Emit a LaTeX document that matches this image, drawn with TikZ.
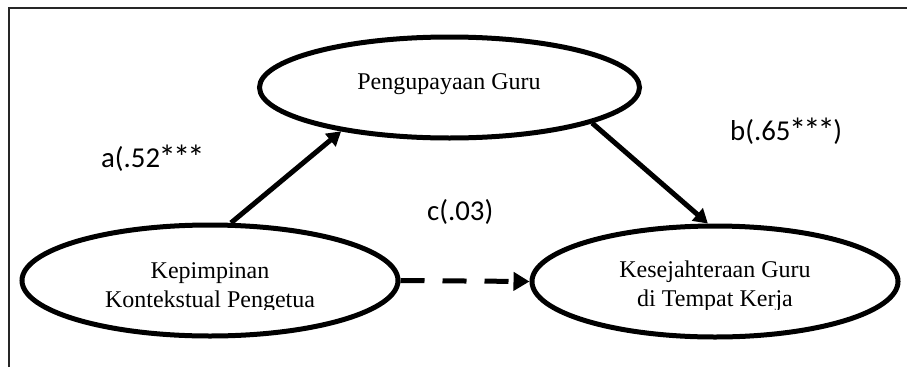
\documentclass[tikz,border=0pt]{standalone}
\usepackage{fontspec}
\setmainfont{Liberation Serif}
\newfontfamily\labfont{Carlito}
\usetikzlibrary{shapes.geometric,arrows.meta}
\newcommand\starmk{\makebox[14.3pt]{\raisebox{-2pt}{\scalebox{1.2}{*}}}}
\tikzset{
  var/.style={draw, ellipse, line width=5pt, inner sep=0pt},
  vtext/.style={font=\fontsize{24}{29}\selectfont, inner sep=0pt, anchor=base},
  coef/.style={font=\labfont\fontsize{28.8}{34}\selectfont, inner sep=0pt, anchor=base west},
  path/.style={line width=5pt, -{Triangle[length=14pt,width=16pt]}},
  dpath/.style={line width=5pt, dash pattern=on 24pt off 18pt, -{Triangle[length=16pt,width=18pt]}},
  frame/.style={line width=1.2pt, black!85}
}
\begin{document}
\begin{tikzpicture}[x=1pt,y=-1pt]
\useasboundingbox (0,0) rectangle (907,367);
\draw[frame] (9,367) -- (9,8) -- (907,8);
\node[var, minimum width=380pt, minimum height=101pt] (m) at (449.5,87.5) {};
\node[var, minimum width=376pt, minimum height=111pt] (x) at (210,280.5) {};
\node[var, minimum width=366pt, minimum height=111pt] (y) at (715,281.5) {};
\node[vtext] (mt) at (449,89) {Pengupayaan Guru};
\node[vtext] (xt1) at (210,278) {Kepimpinan};
\node[vtext] (yt1) at (715,277) {Kesejahteraan Guru};
\begin{scope}
\clip (0,0) rectangle (907,309.5);
\node[vtext] (xt2) at (210,307) {Kontekstual Pengetua};
\node[vtext] (yt2) at (715,306) {di Tempat Kerja};
\end{scope}
\draw[path] (x.70) -- (m.202);
\draw[path] (m.-14) -- (y.97);
\draw[dpath] (x.east) -- (y.west);
\node[coef] (la) at (101,167) {a(.52\starmk\starmk\starmk};
\node[coef] (lb) at (730,140) {b(.65\starmk\starmk\starmk)};
\node[coef] (lc) at (427,220) {c(.03)};
\end{tikzpicture}
\end{document}
